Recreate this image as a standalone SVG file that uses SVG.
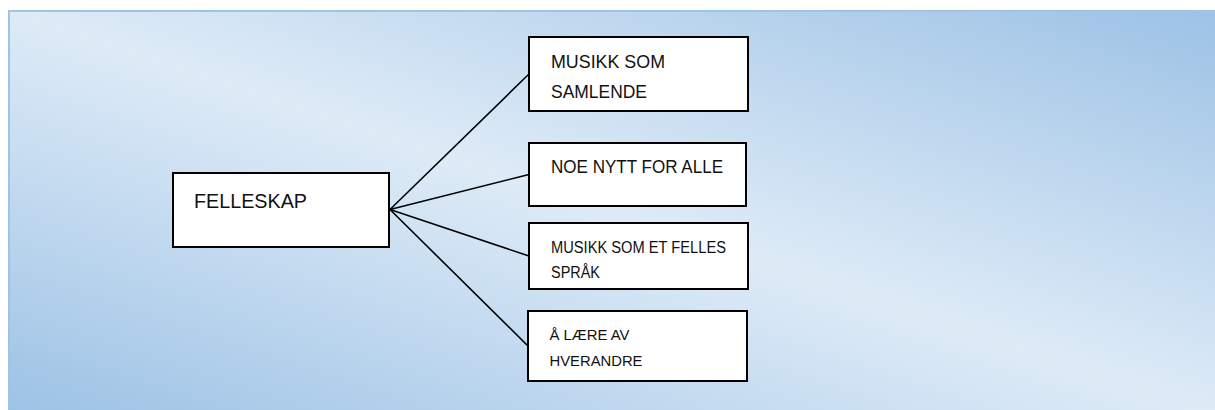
<svg xmlns="http://www.w3.org/2000/svg" width="1215" height="410" viewBox="0 0 1215 410">
  <defs>
    <!-- diagonal light gradient: darker at bottom-left and top-right corners -->
    <linearGradient id="panelFill" x1="0" y1="1" x2="1" y2="0">
      <stop offset="0" stop-color="#9cc2e5"/>
      <stop offset="0.5" stop-color="#deebf7"/>
      <stop offset="1" stop-color="#9cc2e5"/>
    </linearGradient>
    <style>
      .box { fill: #ffffff; stroke: #000000; stroke-width: 2; }
      .lbl { font-family: "Liberation Sans", Arial, sans-serif; fill: #111111; }
      .link { stroke: #000000; stroke-width: 1.6; fill: none; stroke-linecap: round; }
    </style>
  </defs>

  <rect x="0" y="0" width="1215" height="410" fill="#ffffff"/>
  <!-- background panel -->
  <rect x="9" y="11" width="1210" height="404" fill="url(#panelFill)" stroke="#9dc3e6" stroke-width="2"/>

  <!-- connectors from the main node to each sub-item -->
  <g id="connectors">
    <line class="link" x1="390" y1="209.5" x2="529" y2="74"/>
    <line class="link" x1="390" y1="209.5" x2="529" y2="174.5"/>
    <line class="link" x1="390" y1="209.5" x2="529" y2="256"/>
    <line class="link" x1="390" y1="209.5" x2="528" y2="346"/>
  </g>

  <g id="felleskap">
    <rect class="box" x="173" y="173" width="216" height="74"/>
    <text class="lbl" x="194" y="207.5" font-size="21" textLength="113" lengthAdjust="spacingAndGlyphs">FELLESKAP</text>
  </g>

  <g id="musikk-samlende">
    <rect class="box" x="529" y="37" width="219" height="74"/>
    <text class="lbl" x="551" y="68" font-size="18" textLength="114" lengthAdjust="spacingAndGlyphs">MUSIKK SOM</text>
    <text class="lbl" x="551" y="98.3" font-size="18" textLength="96" lengthAdjust="spacingAndGlyphs">SAMLENDE</text>
  </g>

  <g id="noe-nytt">
    <rect class="box" x="529" y="143" width="217" height="63"/>
    <text class="lbl" x="551" y="173.3" font-size="17.5" textLength="172" lengthAdjust="spacingAndGlyphs">NOE NYTT FOR ALLE</text>
  </g>

  <g id="felles-sprak">
    <rect class="box" x="529" y="223" width="219" height="66"/>
    <text class="lbl" x="551" y="252.7" font-size="16" textLength="175" lengthAdjust="spacingAndGlyphs">MUSIKK SOM ET FELLES</text>
    <text class="lbl" x="551" y="278.3" font-size="16" textLength="49" lengthAdjust="spacingAndGlyphs">SPRÅK</text>
  </g>

  <g id="laere-av-hverandre">
    <rect class="box" x="528" y="311" width="219" height="70"/>
    <text class="lbl" x="549.5" y="340" font-size="15.5" textLength="80" lengthAdjust="spacingAndGlyphs">Å LÆRE AV</text>
    <text class="lbl" x="549.5" y="365.7" font-size="15.5" textLength="93" lengthAdjust="spacingAndGlyphs">HVERANDRE</text>
  </g>
</svg>
